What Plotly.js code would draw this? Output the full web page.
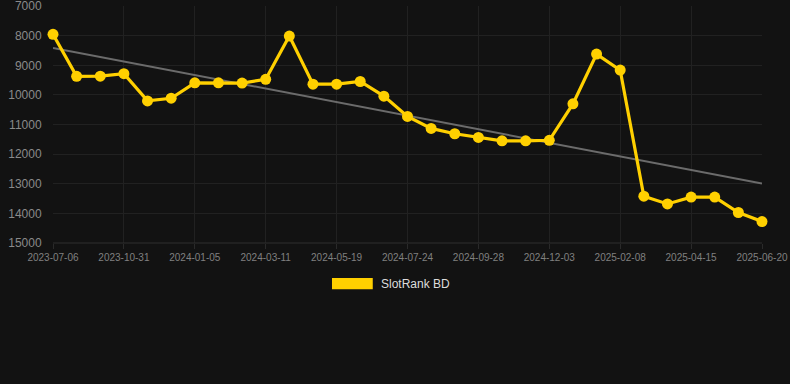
<!DOCTYPE html>
<html>
<head>
<meta charset="utf-8">
<script src="https://cdn.plot.ly/plotly-3.0.1.min.js"></script>
<style>html,body{margin:0;padding:0;background:#121212;}#chart{width:790px;height:384px;}</style>
</head>
<body>
<div id="chart"></div>
<script>
const dates = ["2023-07-06","2023-08-14","2023-09-22","2023-10-31","2023-11-22","2023-12-14",
  "2024-01-05","2024-01-27","2024-02-18","2024-03-11","2024-04-03","2024-04-26",
  "2024-05-19","2024-06-10","2024-07-02","2024-07-24","2024-08-15","2024-09-06",
  "2024-09-28","2024-10-20","2024-11-11","2024-12-03","2024-12-25","2025-01-17",
  "2025-02-08","2025-03-02","2025-03-24","2025-04-15","2025-05-07","2025-05-29","2025-06-20"];
const ranks = [7950,9370,9365,9280,10200,10110,9590,9590,9600,9470,8010,9635,9635,9545,10040,10725,
  11130,11310,11435,11550,11550,11530,10300,8620,9160,13420,13680,13450,13450,13970,14275];
const tickLabels = ["2023-07-06","2023-10-31","2024-01-05","2024-03-11","2024-05-19","2024-07-24",
  "2024-09-28","2024-12-03","2025-02-08","2025-04-15","2025-06-20"];
const trendX = ["2023-07-06","2025-06-20"];
const trendY = [8410,12990];
const yTicks = [7000,8000,9000,10000,11000,12000,13000,14000,15000];
const yTickText = ["7000","8000","9000","10000","11000","12000","13000","14000","15000"];
const seriesName = "SlotRank BD";

const yellow = "#FFD000";
const traces = [
  {x: trendX, y: trendY, type: "scatter", mode: "lines", line: {color: "#6b6b6b", width: 2}, showlegend: false, hoverinfo: "skip"},
  {x: dates, y: ranks, type: "scatter", mode: "lines+markers", name: seriesName, cliponaxis: false,
   line: {color: yellow, width: 3.2}, marker: {color: yellow, size: 11}, showlegend: false}
];
const layout = {
  width: 790, height: 384,
  paper_bgcolor: "#121212", plot_bgcolor: "#121212",
  margin: {l: 53, r: 28, t: 6, b: 141},
  font: {family: "Liberation Sans, Arial, sans-serif", color: "#8a8a8a"},
  xaxis: {type: "category", categoryorder: "array", categoryarray: dates,
    range: [0, 30], tickmode: "array", tickvals: tickLabels, ticktext: tickLabels,
    showgrid: true, gridcolor: "#212121", gridwidth: 1, zeroline: false,
    ticks: "outside", ticklen: 5, tickcolor: "#2a2a2a", ticklabeloverflow: "allow",
    tickfont: {size: 10, color: "#808080"}, showline: false, fixedrange: true},
  yaxis: {range: [15000, 6995], tickmode: "array", tickvals: yTicks, ticktext: yTickText,
    showgrid: true, gridcolor: "#212121", gridwidth: 1, zeroline: false,
    ticks: "outside", ticklen: 8, tickcolor: "rgba(0,0,0,0)", ticklabeloverflow: "allow",
    tickfont: {size: 12, color: "#8a8a8a"}, showline: false, fixedrange: true},
  showlegend: false,
  shapes: [
    {type: "line", xref: "paper", yref: "paper", x0: 0, x1: 1, y0: 0, y1: 0, line: {color: "#2e2e2e", width: 1}},
    {type: "rect", xref: "paper", yref: "paper", x0: 0.3935, x1: 0.451, y0: -0.1477, y1: -0.1954,
     fillcolor: yellow, line: {width: 0}}
  ],
  annotations: [
    {xref: "paper", yref: "paper", x: 0.4598, y: -0.172, xanchor: "left", yanchor: "middle",
     text: seriesName, showarrow: false, font: {size: 12, color: "#dddddd"}}
  ]
};
Plotly.newPlot("chart", traces, layout, {displayModeBar: false, staticPlot: true});
</script>
</body>
</html>
